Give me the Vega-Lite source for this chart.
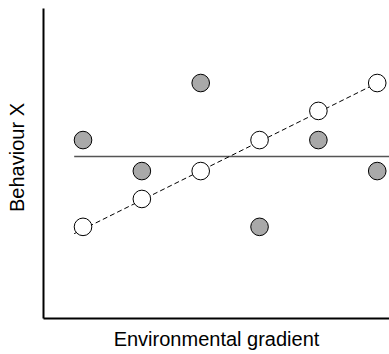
{
  "$schema": "https://vega.github.io/schema/vega-lite/v6.json",
  "width": 346,
  "height": 310,
  "autosize": "none",
  "padding": {"left": 43, "top": 8, "right": 0, "bottom": 36},
  "background": "white",
  "config": {"view": {"stroke": null}, "font": "Liberation Sans"},
  "datasets": {
    "pts": [
      {"group": "A", "x": 1, "y": 5.74},
      {"group": "A", "x": 2, "y": 4.74},
      {"group": "A", "x": 3, "y": 7.58},
      {"group": "A", "x": 4, "y": 2.94},
      {"group": "A", "x": 5, "y": 5.74},
      {"group": "A", "x": 6, "y": 4.74},
      {"group": "B", "x": 1, "y": 2.94},
      {"group": "B", "x": 2, "y": 3.84},
      {"group": "B", "x": 3, "y": 4.74},
      {"group": "B", "x": 4, "y": 5.74},
      {"group": "B", "x": 5, "y": 6.68},
      {"group": "B", "x": 6, "y": 7.58}
    ],
    "flat": [
      {"x": 0.85, "y": 5.21},
      {"x": 6.2, "y": 5.21}
    ],
    "slope": [
      {"x": 0.85, "y": 2.72},
      {"x": 6, "y": 7.58}
    ]
  },
  "layer": [
    {
      "data": {"name": "flat"},
      "mark": {"type": "line", "color": "#555555", "strokeWidth": 1.5},
      "encoding": {
        "x": {"field": "x", "type": "quantitative", "scale": {"domain": [0.32, 6.2], "nice": false, "zero": false},
          "axis": {"title": "Environmental gradient", "labels": false, "ticks": false, "grid": false, "domainColor": "black", "domainWidth": 2, "titleFontSize": 20, "titleFontWeight": "normal", "titleColor": "black", "titlePadding": 11, "titleFont": "Liberation Sans"}},
        "y": {"field": "y", "type": "quantitative", "scale": {"domain": [0, 10], "nice": false, "zero": false},
          "axis": {"title": "Behaviour X", "labels": false, "ticks": false, "grid": false, "domainColor": "black", "domainWidth": 2, "titleFontSize": 20, "titleFontWeight": "normal", "titleColor": "black", "titlePadding": 16, "titleY": 149, "titleFont": "Liberation Sans"}}
      }
    },
    {
      "data": {"name": "slope"},
      "mark": {"type": "line", "color": "black", "strokeWidth": 1, "strokeDash": [5, 3]},
      "encoding": {
        "x": {"field": "x", "type": "quantitative"},
        "y": {"field": "y", "type": "quantitative"}
      }
    },
    {
      "data": {"name": "pts"},
      "mark": {"type": "point", "shape": "circle", "filled": true, "size": 310, "stroke": "black", "strokeWidth": 1, "opacity": 1},
      "encoding": {
        "x": {"field": "x", "type": "quantitative"},
        "y": {"field": "y", "type": "quantitative"},
        "fill": {"field": "group", "type": "nominal", "scale": {"domain": ["A", "B"], "range": ["#a9a9a9", "white"]}, "legend": null}
      }
    }
  ]
}
